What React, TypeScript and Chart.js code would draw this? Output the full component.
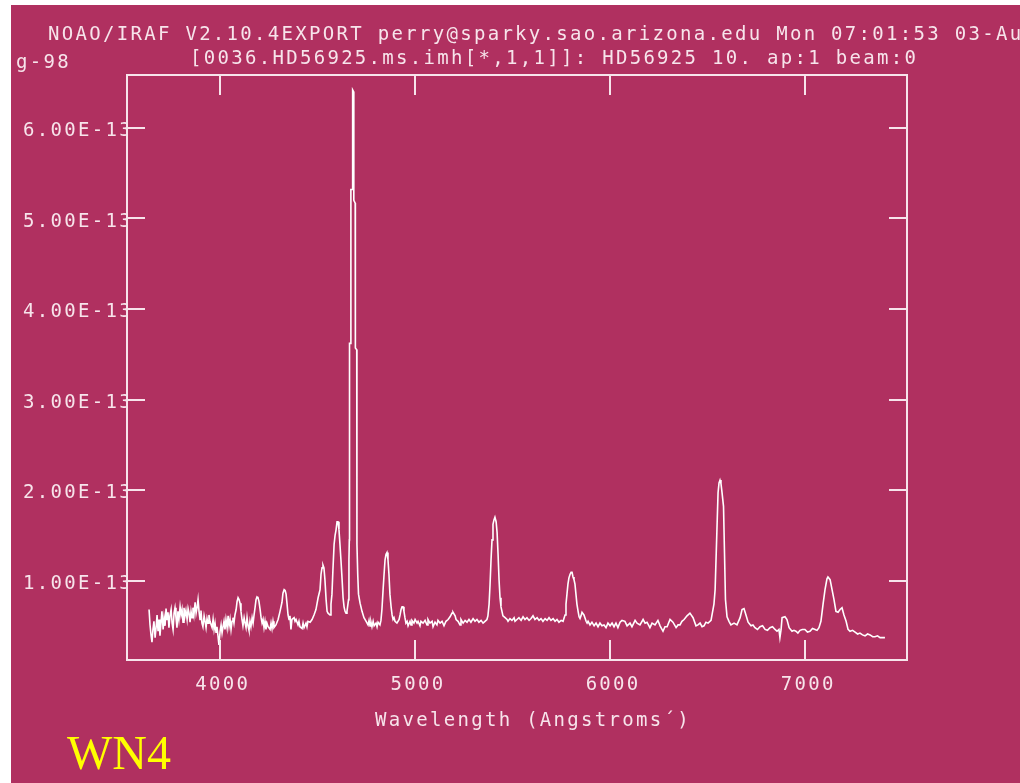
import { useEffect, useRef } from 'react';
import { Chart, registerables } from 'chart.js';

Chart.register(...registerables);

// Wavelength (Angstroms) of the plotted spectrum samples
const wavelength: number[] = [
  3638, 3643, 3648, 3653, 3658, 3663, 3669, 3674, 3679, 3684,
  3689, 3694, 3699, 3704, 3710, 3715, 3720, 3725, 3730, 3735,
  3740, 3745, 3751, 3756, 3761, 3766, 3771, 3776, 3781, 3786,
  3791, 3797, 3802, 3807, 3812, 3817, 3822, 3827, 3833, 3838,
  3843, 3848, 3853, 3858, 3863, 3868, 3874, 3879, 3884, 3889,
  3894, 3899, 3904, 3909, 3914, 3920, 3925, 3930, 3935, 3940,
  3945, 3950, 3961, 3966, 3971, 3976, 3981, 3986, 3991, 3996,
  4002, 4007, 4012, 4017, 4022, 4027, 4032, 4038, 4043, 4048,
  4053, 4058, 4063, 4068, 4073, 4078, 4084, 4089, 4094, 4099,
  4104, 4109, 4114, 4119, 4125, 4130, 4135, 4140, 4145, 4150,
  4155, 4160, 4166, 4171, 4176, 4181, 4186, 4191, 4196, 4201,
  4207, 4212, 4217, 4222, 4227, 4232, 4237, 4242, 4248, 4258,
  4263, 4268, 4273, 4278, 4288, 4299, 4309, 4319, 4324, 4330,
  4335, 4340, 4345, 4350, 4355, 4360, 4365, 4370, 4381, 4386,
  4391, 4401, 4406, 4411, 4422, 4427, 4432, 4442, 4447, 4452,
  4463, 4473, 4483, 4493, 4504, 4514, 4519, 4524, 4529, 4534,
  4539, 4545, 4550, 4555, 4565, 4570, 4575, 4580, 4586, 4591,
  4596, 4601, 4606, 4611, 4616, 4621, 4627, 4632, 4637, 4642,
  4647, 4652, 4660, 4662, 4664, 4665, 4671, 4672, 4680, 4681,
  4686, 4687, 4694, 4695, 4702, 4703, 4707, 4711, 4719, 4729,
  4739, 4750, 4760, 4765, 4770, 4775, 4780, 4786, 4791, 4801,
  4806, 4811, 4821, 4826, 4831, 4837, 4842, 4847, 4852, 4857,
  4862, 4867, 4872, 4878, 4883, 4888, 4893, 4898, 4908, 4919,
  4924, 4929, 4934, 4939, 4944, 4949, 4954, 4960, 4965, 4975,
  4980, 4985, 4995, 5001, 5011, 5016, 5026, 5031, 5042, 5052,
  5062, 5067, 5077, 5088, 5093, 5103, 5113, 5118, 5129, 5139,
  5149, 5159, 5170, 5180, 5190, 5195, 5206, 5211, 5221, 5231,
  5236, 5247, 5257, 5267, 5277, 5287, 5298, 5308, 5318, 5328,
  5339, 5349, 5359, 5369, 5374, 5380, 5385, 5390, 5395, 5400,
  5405, 5410, 5416, 5421, 5426, 5431, 5436, 5441, 5446, 5451,
  5462, 5472, 5477, 5487, 5497, 5508, 5513, 5523, 5533, 5544,
  5554, 5564, 5574, 5585, 5595, 5605, 5615, 5626, 5636, 5646,
  5656, 5667, 5677, 5687, 5697, 5708, 5718, 5728, 5738, 5749,
  5759, 5769, 5774, 5779, 5784, 5789, 5795, 5800, 5805, 5810,
  5815, 5820, 5825, 5830, 5836, 5841, 5846, 5851, 5856, 5861,
  5866, 5871, 5877, 5882, 5887, 5897, 5907, 5918, 5928, 5938,
  5948, 5958, 5969, 5979, 5989, 6000, 6010, 6020, 6030, 6040,
  6051, 6061, 6076, 6087, 6102, 6112, 6128, 6138, 6153, 6169,
  6179, 6189, 6204, 6215, 6230, 6245, 6256, 6271, 6281, 6292,
  6307, 6322, 6338, 6348, 6358, 6368, 6379, 6394, 6409, 6425,
  6440, 6450, 6461, 6471, 6481, 6491, 6502, 6517, 6532, 6538,
  6545, 6553, 6558, 6563, 6568, 6573, 6581, 6586, 6591, 6599,
  6609, 6619, 6635, 6650, 6666, 6676, 6686, 6696, 6707, 6722,
  6732, 6742, 6755, 6768, 6781, 6794, 6806, 6819, 6832, 6845,
  6855, 6865, 6870, 6876, 6881, 6896, 6906, 6917, 6932, 6942,
  6952, 6962, 6973, 6985, 6998, 7011, 7024, 7037, 7050, 7060,
  7070, 7080, 7091, 7101, 7111, 7116, 7127, 7137, 7147, 7157,
  7168, 7178, 7188, 7198, 7209, 7219, 7229, 7242, 7255, 7268,
  7280, 7293, 7306, 7319, 7332, 7345, 7357, 7370, 7383, 7408,
];

// Flux in units of 1E-13
const flux: number[] = [
  0.68, 0.51, 0.40, 0.32, 0.46, 0.55, 0.37, 0.48, 0.62, 0.44,
  0.57, 0.39, 0.53, 0.66, 0.46, 0.59, 0.50, 0.69, 0.57, 0.65,
  0.48, 0.61, 0.68, 0.53, 0.46, 0.64, 0.70, 0.59, 0.48, 0.66,
  0.57, 0.71, 0.62, 0.68, 0.54, 0.70, 0.61, 0.67, 0.57, 0.69,
  0.64, 0.54, 0.66, 0.59, 0.70, 0.62, 0.76, 0.64, 0.70, 0.79,
  0.66, 0.57, 0.67, 0.53, 0.49, 0.61, 0.55, 0.48, 0.58, 0.53,
  0.62, 0.55, 0.48, 0.57, 0.46, 0.53, 0.43, 0.49, 0.39, 0.29,
  0.44, 0.51, 0.42, 0.49, 0.55, 0.46, 0.57, 0.48, 0.61, 0.50,
  0.57, 0.46, 0.55, 0.59, 0.53, 0.62, 0.68, 0.77, 0.81, 0.79,
  0.75, 0.66, 0.57, 0.50, 0.59, 0.53, 0.48, 0.59, 0.50, 0.45,
  0.55, 0.49, 0.59, 0.53, 0.62, 0.70, 0.79, 0.82, 0.81, 0.77,
  0.68, 0.59, 0.53, 0.57, 0.48, 0.55, 0.46, 0.53, 0.49, 0.46,
  0.53, 0.47, 0.55, 0.48, 0.51, 0.57, 0.66, 0.76, 0.86, 0.90,
  0.89, 0.85, 0.74, 0.62, 0.57, 0.61, 0.46, 0.57, 0.59, 0.55,
  0.57, 0.51, 0.55, 0.49, 0.47, 0.53, 0.48, 0.53, 0.49, 0.55,
  0.54, 0.57, 0.62, 0.68, 0.81, 0.90, 1.07, 1.14, 1.17, 1.14,
  1.01, 0.79, 0.66, 0.64, 0.62, 0.74, 0.85, 1.12, 1.40, 1.50,
  1.56, 1.65, 1.65, 1.56, 1.40, 1.23, 1.01, 0.81, 0.71, 0.66,
  0.64, 0.66, 0.79, 1.23, 1.45, 3.62, 3.62, 5.32, 5.32, 6.42,
  6.40, 5.20, 5.17, 3.57, 3.55, 1.40, 1.07, 0.85, 0.75, 0.66,
  0.59, 0.55, 0.51, 0.56, 0.50, 0.54, 0.49, 0.55, 0.50, 0.53,
  0.49, 0.54, 0.51, 0.56, 0.68, 0.90, 1.07, 1.23, 1.29, 1.31,
  1.23, 1.07, 0.85, 0.71, 0.62, 0.57, 0.59, 0.55, 0.53, 0.57,
  0.62, 0.68, 0.71, 0.71, 0.66, 0.59, 0.53, 0.55, 0.50, 0.55,
  0.51, 0.56, 0.53, 0.57, 0.53, 0.55, 0.50, 0.55, 0.53, 0.56,
  0.51, 0.57, 0.53, 0.55, 0.49, 0.54, 0.51, 0.56, 0.53, 0.55,
  0.50, 0.55, 0.57, 0.60, 0.64, 0.65, 0.61, 0.57, 0.55, 0.51,
  0.57, 0.53, 0.56, 0.54, 0.57, 0.54, 0.58, 0.55, 0.57, 0.54,
  0.56, 0.53, 0.55, 0.57, 0.61, 0.74, 0.96, 1.23, 1.45, 1.62,
  1.67, 1.70, 1.65, 1.53, 1.29, 1.01, 0.81, 0.71, 0.66, 0.61,
  0.59, 0.57, 0.55, 0.58, 0.56, 0.59, 0.55, 0.57, 0.59, 0.56,
  0.60, 0.57, 0.59, 0.56, 0.58, 0.61, 0.57, 0.59, 0.56, 0.58,
  0.55, 0.58, 0.56, 0.59, 0.56, 0.58, 0.55, 0.57, 0.54, 0.56,
  0.55, 0.62, 0.74, 0.85, 0.96, 1.03, 1.07, 1.09, 1.09, 1.04,
  1.01, 0.96, 0.85, 0.74, 0.66, 0.60, 0.58, 0.61, 0.65, 0.65,
  0.62, 0.59, 0.55, 0.53, 0.55, 0.51, 0.54, 0.50, 0.53, 0.49,
  0.53, 0.50, 0.51, 0.48, 0.53, 0.50, 0.53, 0.49, 0.53, 0.48,
  0.54, 0.56, 0.55, 0.50, 0.53, 0.49, 0.56, 0.53, 0.51, 0.57,
  0.53, 0.54, 0.48, 0.53, 0.51, 0.56, 0.50, 0.44, 0.49, 0.49,
  0.57, 0.54, 0.48, 0.51, 0.51, 0.55, 0.57, 0.61, 0.64, 0.59,
  0.50, 0.51, 0.53, 0.49, 0.50, 0.54, 0.53, 0.56, 0.74, 0.90,
  1.40, 1.97, 2.08, 2.11, 2.07, 1.98, 1.82, 1.31, 0.79, 0.60,
  0.55, 0.51, 0.53, 0.51, 0.59, 0.68, 0.69, 0.62, 0.54, 0.50,
  0.51, 0.48, 0.46, 0.49, 0.50, 0.46, 0.45, 0.48, 0.49, 0.46,
  0.44, 0.46, 0.37, 0.46, 0.59, 0.60, 0.57, 0.48, 0.44, 0.45,
  0.44, 0.42, 0.45, 0.46, 0.46, 0.43, 0.44, 0.47, 0.46, 0.45,
  0.48, 0.55, 0.74, 0.90, 1.02, 1.04, 1.01, 0.90, 0.79, 0.66,
  0.65, 0.68, 0.70, 0.62, 0.55, 0.46, 0.44, 0.45, 0.43, 0.41,
  0.42, 0.40, 0.39, 0.41, 0.40, 0.38, 0.38, 0.39, 0.37, 0.37,
];

const xTickValues: number[] = [4000, 5000, 6000, 7000];
const yTickValues: number[] = [1, 2, 3, 4, 5, 6];

const headerLine1 = 'NOAO/IRAF V2.10.4EXPORT perry@sparky.sao.arizona.edu Mon 07:01:53 03-Au';
const headerLine2 = '[0036.HD56925.ms.imh[*,1,1]]: HD56925 10. ap:1 beam:0';
const wrapText = 'g-98';
const xAxisTitle = 'Wavelength (Angstroms´)';
const tagText = 'WN4';

const BG = '#B03060';
const FG = '#F7E4EB';
const MONO = '"DejaVu Sans Mono", monospace';

const irafPlugin = {
  id: 'irafDecor',
  beforeDraw(chart: any) {
    const ctx = chart.ctx as CanvasRenderingContext2D;
    ctx.save();
    ctx.fillStyle = '#ffffff';
    ctx.fillRect(0, 0, chart.width, chart.height);
    ctx.fillStyle = BG;
    ctx.fillRect(11, 5, chart.width - 11, chart.height - 5);
    ctx.restore();
    (ctx as any).letterSpacing = '2.3px';
  },
  afterDraw(chart: any) {
    const ctx = chart.ctx as CanvasRenderingContext2D;
    const a = chart.chartArea;
    const sx = chart.scales.x;
    const sy = chart.scales.y;
    ctx.save();
    ctx.strokeStyle = FG;
    ctx.lineWidth = 2;
    ctx.strokeRect(a.left, a.top, a.right - a.left, a.bottom - a.top);
    ctx.beginPath();
    for (const v of xTickValues) {
      const px = Math.round(sx.getPixelForValue(v));
      ctx.moveTo(px, a.bottom);
      ctx.lineTo(px, a.bottom - 20);
      ctx.moveTo(px, a.top);
      ctx.lineTo(px, a.top + 20);
    }
    for (const v of yTickValues) {
      const py = Math.round(sy.getPixelForValue(v));
      ctx.moveTo(a.left, py);
      ctx.lineTo(a.left + 18, py);
      ctx.moveTo(a.right, py);
      ctx.lineTo(a.right - 18, py);
    }
    ctx.stroke();

    (ctx as any).letterSpacing = '2.3px';
    ctx.font = `19px ${MONO}`;
    ctx.fillStyle = FG;
    ctx.textAlign = 'left';
    ctx.textBaseline = 'alphabetic';
    ctx.fillText(headerLine1, 48, 40);
    ctx.fillText(headerLine2, 190, 64);
    ctx.fillText(wrapText, 16, 68);
    ctx.fillText(xAxisTitle, 375, 726);

    (ctx as any).letterSpacing = '0px';
    ctx.font = '48px "Liberation Serif", "Times New Roman", serif';
    ctx.fillStyle = '#FFFF00';
    ctx.fillText(tagText, 67, 769);
    ctx.restore();
  },
};

export default function App() {
  const canvasRef = useRef<HTMLCanvasElement | null>(null);

  useEffect(() => {
    document.body.style.margin = '0';
    const canvas = canvasRef.current;
    if (!canvas) return;
    const points = wavelength.map((w, i) => ({ x: w, y: flux[i] }));
    const tickFont = { family: MONO, size: 19 };
    const chart = new Chart(canvas, {
      type: 'line',
      data: {
        datasets: [
          {
            label: 'HD56925',
            data: points,
            borderColor: '#FFFFFF',
            borderWidth: 1.6,
            pointRadius: 0,
            tension: 0,
            fill: false,
          },
        ],
      },
      options: {
        responsive: false,
        animation: false,
        devicePixelRatio: 1,
        layout: { padding: { left: 0, top: 75, right: 113, bottom: 0 } },
        plugins: {
          legend: { display: false },
          tooltip: { enabled: false },
          title: { display: false },
        },
        scales: {
          x: {
            type: 'linear',
            position: 'bottom',
            min: 3525,
            max: 7521,
            afterFit: (s: any) => {
              s.height = 123;
            },
            afterBuildTicks: (s: any) => {
              s.ticks = xTickValues.map((v) => ({ value: v }));
            },
            grid: { display: false, drawTicks: false },
            border: { display: false },
            ticks: {
              autoSkip: false,
              maxRotation: 0,
              padding: 14,
              labelOffset: 3,
              color: FG,
              font: tickFont,
              callback: (v: any) => String(v),
            },
          },
          y: {
            type: 'linear',
            position: 'left',
            min: 0.1225,
            max: 6.585,
            afterFit: (s: any) => {
              s.width = 127;
            },
            afterBuildTicks: (s: any) => {
              s.ticks = yTickValues.map((v) => ({ value: v }));
            },
            grid: { display: false, drawTicks: false },
            border: { display: false },
            ticks: {
              autoSkip: false,
              padding: -6,
              labelOffset: 3.5,
              color: FG,
              font: tickFont,
              callback: (v: any) => Number(v).toFixed(2) + 'E-13',
            },
          },
        },
      },
      plugins: [irafPlugin],
    } as any);
    return () => chart.destroy();
  }, []);

  return (
    <canvas
      ref={canvasRef}
      width={1020}
      height={783}
      style={{ display: 'block', width: '1020px', height: '783px' }}
    />
  );
}
